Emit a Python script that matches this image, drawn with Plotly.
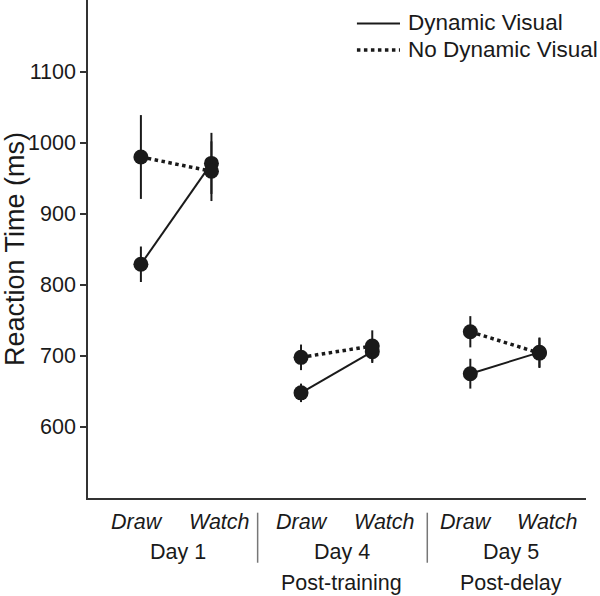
import plotly.graph_objects as go

# ---- data ----
days = ["Day 1", "Day 4", "Day 5"]
day_sub = ["", "Post-training", "Post-delay"]
conditions = ["Draw", "Watch"]
series_names = ["Dynamic Visual", "No Dynamic Visual"]

dyn_mean = [829, 971, 648, 706, 675, 705]
dyn_err = [25, 43, 13, 16, 21, 21]
nodyn_mean = [980, 960, 698, 714, 734, 704]
nodyn_err = [59, 42, 18, 22, 22, 21]

y_tickvals = [600, 700, 800, 900, 1000, 1100]

# ---- layout helpers (positions on numeric x axis) ----
x_pos = [0.75, 1.75, 3.02, 4.03, 5.42, 6.40]
label_pos = [0.70, 1.87, 3.03, 4.21, 5.36, 6.52]
day_label_pos = [1.27, 3.60, 5.99]
sep_pos = [2.405, 4.81]
X_RANGE = [0, 7.06]
Y_RANGE = [500, 1201]

FONT = "Liberation Sans, Arial, Helvetica, sans-serif"
INK = "#1a1a1a"

fig = go.Figure()

series = [
    (series_names[0], dyn_mean, dyn_err, dict(color=INK, width=2, dash="solid")),
    (series_names[1], nodyn_mean, nodyn_err, dict(color=INK, width=3.5, dash="dot")),
]

for name, means, errs, line in series:
    for d in range(len(days)):
        i0, i1 = 2 * d, 2 * d + 2
        fig.add_trace(go.Scatter(
            x=x_pos[i0:i1], y=means[i0:i1],
            mode="lines+markers",
            name=name,
            legendgroup=name,
            showlegend=False,
            line=line,
            marker=dict(size=15, color=INK),
            error_y=dict(type="data", array=errs[i0:i1], visible=True,
                         thickness=2, width=0, color=INK),
        ))

annotations = []
shapes = []

# condition labels
for i, xp in enumerate(label_pos):
    annotations.append(dict(
        x=xp, y=0, xref="x", yref="paper", yanchor="middle", xanchor="center",
        yshift=-24, text="<i>%s</i>" % conditions[i % 2], showarrow=False,
        font=dict(family=FONT, size=21.5, color=INK)))

# day labels
for d, xp in enumerate(day_label_pos):
    annotations.append(dict(
        x=xp, y=0, xref="x", yref="paper", yanchor="middle", xanchor="center",
        yshift=-54, text=days[d], showarrow=False,
        font=dict(family=FONT, size=21.5, color=INK)))
    if day_sub[d]:
        annotations.append(dict(
            x=xp, y=0, xref="x", yref="paper", yanchor="middle", xanchor="center",
            yshift=-85, text=day_sub[d], showarrow=False,
            font=dict(family=FONT, size=21.5, color=INK)))

# group separators
for sx in sep_pos:
    shapes.append(dict(type="line", xref="x", yref="paper",
                       x0=sx, x1=sx, y0=-0.0295, y1=-0.13,
                       line=dict(color="#777777", width=1.5)))

# legend (drawn manually to match the sample length)
leg_y = [0.953, 0.8996]
leg_dash = ["solid", "dot"]
leg_w = [2, 3.5]
for k, name in enumerate(series_names):
    shapes.append(dict(type="line", xref="paper", yref="paper",
                       x0=0.540, x1=0.6265, y0=leg_y[k], y1=leg_y[k],
                       line=dict(color=INK, width=leg_w[k], dash=leg_dash[k])))
    annotations.append(dict(
        x=0.6386, y=leg_y[k] + 0.001, xref="paper", yref="paper",
        xanchor="left", yanchor="middle", text=name, showarrow=False,
        font=dict(family=FONT, size=22.5, color=INK)))

fig.update_layout(
    width=600, height=596,
    margin=dict(l=88, r=14, t=0, b=98),
    paper_bgcolor="white", plot_bgcolor="white",
    showlegend=False,
    font=dict(family=FONT, size=21, color=INK),
    annotations=annotations,
    shapes=shapes,
    xaxis=dict(range=X_RANGE, showgrid=False, zeroline=False,
               showticklabels=False, ticks="",
               showline=True, linecolor="#333333", linewidth=1.5),
    yaxis=dict(range=Y_RANGE, showgrid=False, zeroline=False,
               tickvals=y_tickvals, ticks="outside", ticklen=6,
               tickwidth=1.5, tickcolor="#333333",
               showline=True, linecolor="#333333", linewidth=1.5,
               tickfont=dict(family=FONT, size=21.5, color=INK),
               title=dict(text="Reaction Time (ms)", standoff=0,
                          font=dict(family=FONT, size=27, color=INK))),
)

fig.write_html("out.html",
               config={"displayModeBar": False},
               post_script="document.body.style.margin='0';document.body.style.padding='0';")
